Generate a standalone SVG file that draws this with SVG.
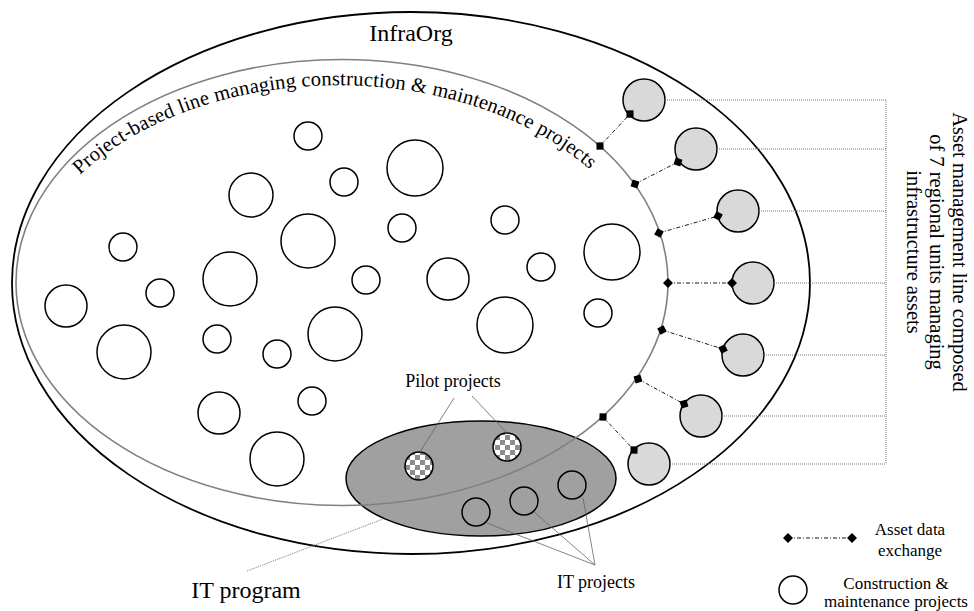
<svg xmlns="http://www.w3.org/2000/svg" width="974" height="611" viewBox="0 0 974 611">
<style>
text{font-family:"Liberation Serif","Times New Roman",serif;fill:#000}
.proj{fill:#fff;stroke:#000;stroke-width:1.5}
.unit{fill:#d9d9d9;stroke:#000;stroke-width:1.5}
.itp{fill:#a0a0a0;stroke:#000;stroke-width:1.5}
.pilot{fill:url(#checker);stroke:#000;stroke-width:1.5}
.xchg{stroke:#000;stroke-width:0.9;stroke-dasharray:4 2 1 2;fill:none;marker-start:url(#dia);marker-end:url(#dia)}
.dot{stroke:#777;stroke-width:1;stroke-dasharray:1 1;fill:none}
.lead{stroke:#666;stroke-width:0.8;fill:none}
.lbl{font-size:18px;text-anchor:middle}
.leg{font-size:17px;text-anchor:middle}
</style>
<defs>
<marker id="dia" viewBox="-6 -6 12 12" markerWidth="12" markerHeight="12" markerUnits="userSpaceOnUse" orient="auto">
<path d="M-5,0 L0,-5 L5,0 L0,5 Z" fill="#000"/>
</marker>
<pattern id="checker" patternUnits="userSpaceOnUse" x="0" y="0" width="10" height="10">
<rect width="10" height="10" fill="#fff"/>
<rect width="5" height="5" fill="#8c8c8c"/>
<rect x="5" y="5" width="5" height="5" fill="#8c8c8c"/>
</pattern>
<path id="arcText" d="M 80,175 A 318 216 0 0 1 596,175"/>
</defs>

<g id="infraorg">
<ellipse cx="411" cy="283" rx="399" ry="271" fill="none" stroke="#000" stroke-width="1.8"/>
<text x="411" y="41" font-size="24" text-anchor="middle">InfraOrg</text>
</g>

<g id="it-program">
<ellipse cx="481" cy="478.5" rx="135" ry="57.5" class="itp"/>
</g>

<g id="project-line">
<ellipse cx="342" cy="282.5" rx="326" ry="223" fill="none" stroke="#808080" stroke-width="1.6"/>
<text font-size="20.5"><textPath href="#arcText" textLength="550" lengthAdjust="spacing">Project-based line managing construction &amp; maintenance projects</textPath></text>
</g>

<g id="projects">
<circle id="p1" cx="308" cy="136" r="14" class="proj"/>
<circle id="p2" cx="415" cy="168" r="28" class="proj"/>
<circle id="p3" cx="344" cy="182" r="14" class="proj"/>
<circle id="p4" cx="251" cy="195" r="22" class="proj"/>
<circle id="p5" cx="123" cy="247" r="14" class="proj"/>
<circle id="p6" cx="308" cy="241" r="27" class="proj"/>
<circle id="p7" cx="402" cy="228" r="14" class="proj"/>
<circle id="p8" cx="505" cy="220" r="14" class="proj"/>
<circle id="p9" cx="612" cy="252" r="28" class="proj"/>
<circle id="p10" cx="66" cy="306" r="21" class="proj"/>
<circle id="p11" cx="160" cy="293" r="14" class="proj"/>
<circle id="p12" cx="230" cy="279" r="27" class="proj"/>
<circle id="p13" cx="366" cy="280" r="14" class="proj"/>
<circle id="p14" cx="448" cy="279" r="21" class="proj"/>
<circle id="p15" cx="541" cy="267" r="14" class="proj"/>
<circle id="p16" cx="124" cy="352" r="27" class="proj"/>
<circle id="p17" cx="217" cy="339" r="14" class="proj"/>
<circle id="p18" cx="277" cy="354" r="14" class="proj"/>
<circle id="p19" cx="335" cy="334" r="27" class="proj"/>
<circle id="p20" cx="505" cy="325" r="28" class="proj"/>
<circle id="p21" cx="598" cy="313" r="14" class="proj"/>
<circle id="p22" cx="219" cy="413" r="21" class="proj"/>
<circle id="p23" cx="312" cy="401" r="14" class="proj"/>
<circle id="p24" cx="277" cy="459" r="27" class="proj"/>
</g>

<g id="pilot-projects">
<circle id="pilot1" cx="419" cy="466" r="14" class="pilot"/>
<circle id="pilot2" cx="507" cy="447" r="14" class="pilot"/>
<text class="lbl" x="453" y="387">Pilot projects</text>
</g>

<g id="it-projects">
<circle id="it1" cx="476" cy="512" r="14" class="itp"/>
<circle id="it2" cx="524" cy="501" r="14" class="itp"/>
<circle id="it3" cx="572" cy="485" r="14" class="itp"/>
<text class="lbl" x="596" y="588">IT projects</text>
</g>

<g id="regional-units">
<circle id="u1" cx="644" cy="100" r="21" class="unit"/>
<circle id="u2" cx="696" cy="149" r="21" class="unit"/>
<circle id="u3" cx="738" cy="211" r="21" class="unit"/>
<circle id="u4" cx="753" cy="283" r="21" class="unit"/>
<circle id="u5" cx="743" cy="355" r="21" class="unit"/>
<circle id="u6" cx="701" cy="416" r="21" class="unit"/>
<circle id="u7" cx="649" cy="464" r="21" class="unit"/>
</g>

<g id="asset-line-label">
<text font-size="20.5" text-anchor="middle" transform="translate(953,252) rotate(90)">Asset management line composed</text>
<text font-size="20.5" text-anchor="middle" transform="translate(930,252) rotate(90)">of 7 regional units managing</text>
<text font-size="20.5" text-anchor="middle" transform="translate(907,252) rotate(90)">infrastructure assets</text>
</g>

<g id="it-program-label">
<text x="246" y="598" font-size="24" text-anchor="middle">IT program</text>
</g>

<g id="connectors">
<line class="xchg" x1="600" y1="146" x2="630" y2="114"/>
<line class="xchg" x1="635" y1="184" x2="678" y2="162"/>
<line class="xchg" x1="659" y1="233" x2="718" y2="216"/>
<line class="xchg" x1="668" y1="283" x2="732" y2="283"/>
<line class="xchg" x1="662" y1="330" x2="723" y2="349"/>
<line class="xchg" x1="638" y1="379" x2="684" y2="404"/>
<line class="xchg" x1="603" y1="417" x2="634" y2="450"/>
<path class="dot" d="M665,100 H886 M717,149 H886 M759,211 H886 M774,283 H886 M764,355 H886 M722,416 H886 M670,464 H886 M886,100 V464"/>
<path class="lead" d="M454,398 L420,452 M472,396 L507,433"/>
<path class="lead" d="M595,565 L487,523 M595,565 L534,512 M595,565 L583,498"/>
<path class="dot" d="M247,571 L383,519"/>
</g>

<g id="legend">
<line class="xchg" x1="788" y1="538" x2="852" y2="538"/>
<text class="leg" x="910" y="535">Asset data</text>
<text class="leg" x="910" y="556">exchange</text>
<circle cx="793" cy="590" r="14" class="proj"/>
<text class="leg" x="896" y="589">Construction &amp;</text>
<text class="leg" x="896" y="607">maintenance projects</text>
</g>
</svg>
